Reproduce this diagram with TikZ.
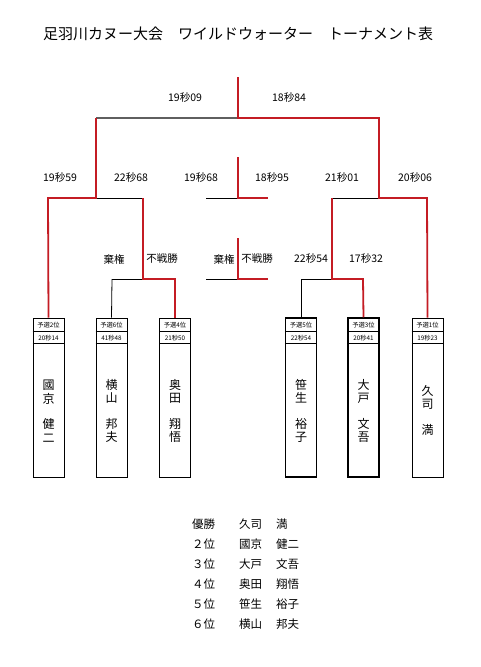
\documentclass[tikz,border=0pt]{standalone}
\usepackage{fontspec}
\setmainfont{Noto Sans CJK JP}
\definecolor{tred}{RGB}{196,28,36}
\definecolor{tgray}{RGB}{95,95,95}
\begin{document}
\begin{tikzpicture}[x=1pt,y=-1pt,line join=miter,
 win/.style={draw=tred, line width=1.8pt},
 lose/.style={draw=black, line width=0.8pt},
 gline/.style={draw=tgray, line width=1.5pt},
 box/.style={draw, line width=0.8pt, minimum width=31pt, minimum height=159pt, inner sep=0pt},
 boxb/.style={box, line width=1.5pt},
 lbl/.style={font=\fontsize{10.5}{12}\selectfont, inner sep=0pt},
 hdr/.style={font=\fontsize{6.3}{7}\selectfont, inner sep=0pt},
 nm/.style={font=\fontsize{12}{13.5}\selectfont, inner sep=0pt, align=center},
 lst/.style={font=\fontsize{11.5}{13}\selectfont, anchor=west, inner sep=0pt},
 ttl/.style={font=\fontsize{15}{16}\selectfont, inner sep=0pt}]
\useasboundingbox (0,0) rectangle (480,667);
\fill[white] (0,0) rectangle (480,667);
% title
\node[ttl] (title) at (238,34) {足羽川カヌー大会　ワイルドウォーター　トーナメント表};
% junction coordinates
\coordinate (top) at (238,77);
\coordinate (f) at (238,118);
\coordinate (fl) at (96,118);
\coordinate (fr) at (379,118);
\coordinate (sl) at (96,198);
\coordinate (sll) at (48,198);
\coordinate (slr) at (143,198);
\coordinate (qlr) at (143,279);
\coordinate (qll) at (112,279);
\coordinate (qlrr) at (175,279);
\coordinate (sr) at (379,198);
\coordinate (srl) at (332,198);
\coordinate (srr) at (427,198);
\coordinate (qr) at (332,279);
\coordinate (qrl) at (301,279);
\coordinate (qrr) at (363,279);
\coordinate (m1t) at (238,157);
\coordinate (m1) at (238,198);
\coordinate (m1l) at (206,198);
\coordinate (m1r) at (268,198);
\coordinate (m2t) at (238,238);
\coordinate (m2) at (238,279);
\coordinate (m2l) at (206,279);
\coordinate (m2r) at (268,279);
% boxes
\node[box]  (b1) at (48.5,397.5) {};
\node[box]  (b2) at (111.5,397.5) {};
\node[box]  (b3) at (175,397.5) {};
\node[boxb] (b4) at (301,397.5) {};
\node[boxb] (b5) at (363.5,397.5) {};
\node[box]  (b6) at (427.5,397.5) {};
\foreach \b/\w in {b1/0.8pt,b2/0.8pt,b3/0.8pt,b4/1.2pt,b5/1.2pt,b6/0.8pt}{
  \draw[line width=\w] ([yshift=-14pt]\b.north west) -- ([yshift=-14pt]\b.north east);
  \draw[line width=\w] ([yshift=-26pt]\b.north west) -- ([yshift=-26pt]\b.north east);
}
% box headers
\node[hdr] (h1) at (48.5,325) {予選2位};
\node[hdr] (t1) at (48.5,338) {20秒14};
\node[hdr] (h2) at (111.5,325) {予選6位};
\node[hdr] (t2) at (111.5,338) {41秒48};
\node[hdr] (h3) at (175,325) {予選4位};
\node[hdr] (t3) at (175,338) {21秒50};
\node[hdr] (h4) at (301,325) {予選5位};
\node[hdr] (t4) at (301,338) {22秒54};
\node[hdr] (h5) at (363.5,325) {予選3位};
\node[hdr] (t5) at (363.5,338) {20秒41};
\node[hdr] (h6) at (427.5,325) {予選1位};
\node[hdr] (t6) at (427.5,338) {19秒23};
% names
\node[nm] (n1) at (48.5,411) {國\\京\\[12pt]健\\二};
\node[nm] (n2) at (111.5,411) {横\\山\\[12pt]邦\\夫};
\node[nm] (n3) at (175,411) {奥\\田\\[12pt]翔\\悟};
\node[nm] (n4) at (301,411) {笹\\生\\[12pt]裕\\子};
\node[nm] (n5) at (363.5,411) {大\\戸\\[12pt]文\\吾};
\node[nm] (n6) at (427.5,410) {久\\司\\[12pt]満};
% connectors: black / gray (losing) parts first
\draw[gline] (fl) -- (f);
\draw[lose] (sl) -- (slr);
\draw[lose] (qll) -- (qlr);
\draw[lose] (qll) -- (b2.north);
\draw[lose] (m1l) -- (m1);
\draw[lose] (m2l) -- (m2);
\draw[lose] (srl) -- (sr);
\draw[lose] (qrl) -- (qr);
\draw[lose] (qrl) -- (b4.north);
% winning paths
\draw[win] (top) -- (f) -- (fr) -- (sr) -- (srr) -- (b6.north);
\draw[win] (fl) -- (sl) -- (sll) -- (b1.north);
\draw[win] (slr) -- (qlr) -- (qlrr) -- (b3.north);
\draw[win] (srl) -- (qr) -- (qrr) -- (b5.north);
\draw[win] (m1t) -- (m1) -- (m1r);
\draw[win] (m2t) -- (m2) -- (m2r);
% time labels
\node[lbl] (l1) at (185,98) {19秒09};
\node[lbl] (l2) at (289,98) {18秒84};
\node[lbl] (l3) at (60,178) {19秒59};
\node[lbl] (l4) at (131,178) {22秒68};
\node[lbl] (l5) at (201,178) {19秒68};
\node[lbl] (l6) at (272,178) {18秒95};
\node[lbl] (l7) at (342,178) {21秒01};
\node[lbl] (l8) at (415,178) {20秒06};
\node[lbl] (l9) at (114,259) {棄権};
\node[lbl] (l10) at (162,259) {不戦勝};
\node[lbl] (l11) at (224,259) {棄権};
\node[lbl] (l12) at (257,259) {不戦勝};
\node[lbl] (l13) at (311,259) {22秒54};
\node[lbl] (l14) at (366,259) {17秒32};
% results
\node[lst] (r1a) at (192,524) {優勝};
\node[lst] (r1b) at (239,524) {久司};
\node[lst] (r1c) at (276,524) {満};
\node[lst] (r2a) at (192,544) {２位};
\node[lst] (r2b) at (239,544) {國京};
\node[lst] (r2c) at (276,544) {健二};
\node[lst] (r3a) at (192,564) {３位};
\node[lst] (r3b) at (239,564) {大戸};
\node[lst] (r3c) at (276,564) {文吾};
\node[lst] (r4a) at (192,584) {４位};
\node[lst] (r4b) at (239,584) {奥田};
\node[lst] (r4c) at (276,584) {翔悟};
\node[lst] (r5a) at (192,604) {５位};
\node[lst] (r5b) at (239,604) {笹生};
\node[lst] (r5c) at (276,604) {裕子};
\node[lst] (r6a) at (192,624) {６位};
\node[lst] (r6b) at (239,624) {横山};
\node[lst] (r6c) at (276,624) {邦夫};
\end{tikzpicture}
\end{document}
